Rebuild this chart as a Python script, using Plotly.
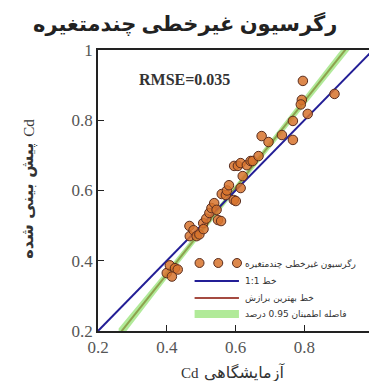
import plotly.graph_objects as go

# Experimental vs predicted Cd
cd_lab = [0.400, 0.409, 0.424, 0.432, 0.415,
          0.466, 0.467, 0.478, 0.487, 0.495, 0.506, 0.507, 0.515,
          0.524, 0.530, 0.538, 0.545, 0.549, 0.558,
          0.560, 0.572, 0.575, 0.581, 0.595, 0.601, 0.615,
          0.596, 0.607, 0.615, 0.621, 0.633, 0.644, 0.650,
          0.667, 0.676, 0.696, 0.735, 0.767, 0.767, 0.810,
          0.793, 0.790, 0.796, 0.888]
cd_pred = [0.365, 0.387, 0.379, 0.375, 0.355,
           0.499, 0.470, 0.487, 0.470, 0.475, 0.507, 0.490, 0.520,
           0.536, 0.550, 0.564, 0.545, 0.516, 0.513,
           0.590, 0.587, 0.600, 0.615, 0.573, 0.570, 0.607,
           0.670, 0.670, 0.678, 0.641, 0.672, 0.684, 0.684,
           0.698, 0.755, 0.738, 0.758, 0.798, 0.744, 0.818,
           0.858, 0.845, 0.912, 0.875]

# 1:1 line
one_x = [0.2, 1.0]
one_y = [0.2, 1.0]

# Best-fit line and 95% band
fit_x = [0.26, 0.40, 0.60, 0.80, 0.94]
fit_y = [0.189, 0.361, 0.607, 0.854, 1.026]
band_lo = [0.171, 0.349, 0.598, 0.842, 1.010]
band_hi = [0.207, 0.373, 0.616, 0.866, 1.042]

title_txt = "رگرسیون غیرخطی چندمتغیره"
x_title_sym = "Cd"
x_title_word = "آزمایشگاهی"
y_title_sym = "Cd"
y_title_word = "پیش بینی شده"
names = ["رگرسیون غیرخطی چندمتغیره", "خط 1:1", "خط بهترین برازش", "فاصله اطمینان 0.95 درصد"]
rmse_txt = "RMSE=0.035"

serif = "Times New Roman, Liberation Serif, DejaVu Sans, serif"
arab = "DejaVu Sans, sans-serif"

pt_color = "rgba(215,115,45,0.85)"
pt_edge = "rgb(90,45,30)"
one_color = "rgb(35,30,150)"
fit_color = "rgb(165,75,65)"
band_color = "rgba(125,220,85,0.6)"

# plot area in pixels (for placing the legend block)
L, T, W, H = 90, 42, 279, 281


def px(xp):
    return (xp - L) / W


def py(yp):
    return (T + H - yp) / H


fig = go.Figure()

# best fit line (beneath band)
fig.add_trace(go.Scatter(x=fit_x, y=fit_y, mode="lines", name=names[2],
                         line=dict(color=fit_color, width=2)))
# band
fig.add_trace(go.Scatter(x=fit_x, y=band_lo, mode="lines", hoverinfo="skip",
                         line=dict(color="rgba(0,0,0,0)", width=0)))
fig.add_trace(go.Scatter(x=fit_x, y=band_hi, mode="lines", fill="tonexty",
                         fillcolor=band_color, name=names[3],
                         line=dict(color="rgba(0,0,0,0)", width=0)))
# 1:1
fig.add_trace(go.Scatter(x=one_x, y=one_y, mode="lines", name=names[1],
                         line=dict(color=one_color, width=2)))
# points
fig.add_trace(go.Scatter(x=cd_lab, y=cd_pred, mode="markers", name=names[0],
                         marker=dict(size=9.5, color=pt_color,
                                     line=dict(color=pt_edge, width=1))))

# ---- legend block (symbols + texts) ----
row_y = [255, 273, 290, 306]
sym_x0, sym_x1, txt_x = 188, 233, 237
for cx in (193, 212, 231):
    fig.add_shape(type="circle", xref="paper", yref="paper",
                  xsizemode="pixel", ysizemode="pixel",
                  xanchor=px(cx), yanchor=py(row_y[0]),
                  x0=-4.5, x1=4.5, y0=-4.5, y1=4.5,
                  fillcolor=pt_color, line=dict(color=pt_edge, width=1))
fig.add_shape(type="line", xref="paper", yref="paper",
              x0=px(sym_x0), x1=px(sym_x1), y0=py(row_y[1]), y1=py(row_y[1]),
              line=dict(color=one_color, width=2))
fig.add_shape(type="line", xref="paper", yref="paper",
              x0=px(sym_x0), x1=px(sym_x1), y0=py(row_y[2]), y1=py(row_y[2]),
              line=dict(color=fit_color, width=2))
fig.add_shape(type="rect", xref="paper", yref="paper",
              x0=px(sym_x0), x1=px(sym_x1), y0=py(row_y[3] + 4), y1=py(row_y[3] - 4),
              fillcolor=band_color, line=dict(width=0))
for nm, ry in zip(names, row_y):
    fig.add_annotation(x=px(txt_x), y=py(ry), xref="paper", yref="paper",
                       text=nm, showarrow=False, xanchor="left", yanchor="middle",
                       font=dict(family=arab, size=9, color="#333"))

fig.add_annotation(x=0.143, y=0.895, xref="paper", yref="paper",
                   text="<b>" + rmse_txt + "</b>", showarrow=False,
                   xanchor="left", yanchor="middle",
                   font=dict(family=serif, size=16, color="#333"))

# x-axis title (two pieces: symbol then word)
fig.add_annotation(x=0.376, y=-0.149, xref="paper", yref="paper",
                   text=x_title_sym, showarrow=False, xanchor="right", yanchor="middle",
                   font=dict(family=serif, size=15, color="#333"))
fig.add_annotation(x=0.378, y=-0.149, xref="paper", yref="paper",
                   text=x_title_word, showarrow=False, xanchor="left", yanchor="middle",
                   font=dict(family=arab, size=16, color="#333"))
# y-axis title (rotated)
fig.add_annotation(x=-0.254, y=0.685, xref="paper", yref="paper",
                   text=y_title_sym, showarrow=False, textangle=-90,
                   xanchor="center", yanchor="bottom",
                   font=dict(family=serif, size=15, color="#333"))
fig.add_annotation(x=-0.254, y=0.678, xref="paper", yref="paper",
                   text="<b>" + y_title_word + "</b>", showarrow=False, textangle=-90,
                   xanchor="center", yanchor="top",
                   font=dict(family=arab, size=16, color="#333"))

axis_common = dict(range=[0.2, 1.0], dtick=0.2, ticks="inside", ticklen=6,
                   tickwidth=1, tickcolor="#222", showline=True, linecolor="#222",
                   linewidth=1.5, mirror=True, showgrid=False, zeroline=False,
                   tickfont=dict(family=serif, size=17, color="#555"))

fig.update_xaxes(**axis_common)
fig.update_yaxes(**axis_common)

fig.update_layout(
    width=377, height=381,
    margin=dict(l=L, r=377 - L - W, t=T, b=381 - T - H),
    plot_bgcolor="white", paper_bgcolor="white",
    title=dict(text="<b>" + title_txt + "</b>", x=0.47, xanchor="center",
               y=0.96, yanchor="middle",
               font=dict(family=serif, size=21, color="#222")),
    showlegend=False,
)

fig.write_html("out.html")
